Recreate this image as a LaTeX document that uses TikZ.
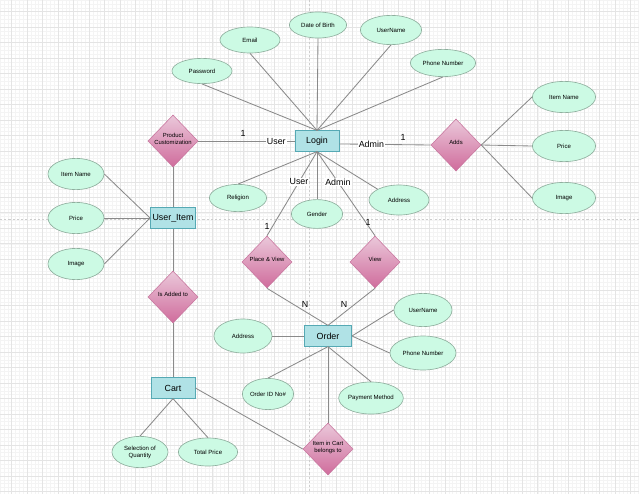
\documentclass[tikz,border=0pt]{standalone}
\usepackage{fontspec}
\setmainfont{Liberation Sans}
\usetikzlibrary{shapes.geometric}
\definecolor{AttrFill}{HTML}{CCFAE4}
\definecolor{AttrLine}{HTML}{8FAF9E}
\definecolor{EntFill}{HTML}{B0E2E6}
\definecolor{EntLine}{HTML}{56A9B4}
\definecolor{RelTop}{HTML}{EAC8DA}
\definecolor{RelBot}{HTML}{D06C9C}
\definecolor{RelLine}{HTML}{C8769E}
\definecolor{Wire}{HTML}{8A8A8A}
\definecolor{GridMaj}{HTML}{E4E4E4}
\definecolor{GridMin}{HTML}{F4F4F4}
\definecolor{Guide}{HTML}{CDCDCD}
\newcommand{\dtext}[1]{\smash{\makebox[0pt]{\begin{tabular}{@{}c@{}}#1\end{tabular}}}}

\begin{document}
\begin{tikzpicture}[x=0.025cm,y=-0.025cm,
  attr/.style 2 args={ellipse,draw=AttrLine,fill=AttrFill,line width=.45pt,inner sep=0pt,
    minimum width=#1,minimum height=#2,align=center,font=\fontsize{4.3}{5}\selectfont},
  ent/.style={rectangle,draw=EntLine,fill=EntFill,line width=.6pt,inner sep=0pt,
    minimum width=1.1cm,minimum height=.51cm,font=\fontsize{6.3}{7}\selectfont},
  rel/.style={diamond,draw=RelLine,top color=RelTop,bottom color=RelBot,line width=.4pt,
    inner sep=0pt,minimum width=1.25cm,minimum height=1.3cm,font=\fontsize{4.2}{5}\selectfont},
  wire/.style={draw=Wire,line width=.6pt},
  role/.style={fill=white,inner sep=.8pt,font=\fontsize{6.3}{7}\selectfont},
  card/.style={inner sep=0pt,font=\fontsize{6.3}{7}\selectfont}]
\useasboundingbox (0,0) rectangle (639,494);
\fill[white] (0,0) rectangle (639,494);
% grid paper
\foreach \k in {0,...,165} \draw[GridMin,line width=.3pt] ({11.6+3.86875*(\k-3)},0) -- ++(0,494);
\foreach \k in {0,...,127} \draw[GridMin,line width=.3pt] (0,{11.6+3.86875*(\k-3)}) -- ++(639,0);
\foreach \k in {0,...,40} \draw[GridMaj,line width=.4pt] ({11.6+15.475*\k},0) -- ++(0,494);
\foreach \k in {0,...,31} \draw[GridMaj,line width=.4pt] (0,{11.6+15.475*\k}) -- ++(639,0);
\draw[Guide,line width=.5pt,dash pattern=on 1.5pt off 1.5pt] (309,0) -- (309,494) (0,219) -- (639,219);

% entities
\node[ent] (login) at (317,141) {Login};
\node[ent,minimum width=1.125cm] (uitem) at (173,218) {User\_Item};
\node[ent] (cart) at (173,388) {Cart};
\node[ent,minimum width=1.175cm] (order) at (328,336) {Order};

% relationships
\node[rel] (pc) at (173,141) {\dtext{Product\\Customization}};
\node[rel] (adds) at (456,145) {\dtext{Adds}};
\node[rel] (added) at (173,297) {\dtext{Is Added to}};
\node[rel] (placev) at (267,262) {\dtext{Place \& View}};
\node[rel] (view) at (375,262) {\dtext{View}};
\node[rel] (incart) at (328,449) {\dtext{Item in Cart\\belongs to}};

% login attributes
\node[attr={1.5cm}{.63cm}] (pwd) at (202,71) {Password};
\node[attr={1.5cm}{.65cm}] (email) at (250,40) {Email};
\node[attr={1.43cm}{.65cm}] (dob) at (318,25) {Date of Birth};
\node[attr={1.53cm}{.73cm}] (uname) at (391,30) {UserName};
\node[attr={1.63cm}{.68cm}] (phone) at (443,63) {Phone Number};
\node[attr={1.43cm}{.68cm}] (religion) at (238,198) {Religion};
\node[attr={1.28cm}{.72cm}] (gender) at (317,214) {Gender};
\node[attr={1.5cm}{.75cm}] (addr) at (399,200) {Address};

% item attributes
\node[attr={1.58cm}{.78cm}] (iname) at (564,97) {Item Name};
\node[attr={1.58cm}{.78cm}] (iprice) at (564,146) {Price};
\node[attr={1.58cm}{.78cm}] (iimage) at (564,198) {Image};
\node[attr={1.4cm}{.78cm}] (lname) at (76,174) {Item Name};
\node[attr={1.4cm}{.78cm}] (lprice) at (76,218) {Price};
\node[attr={1.4cm}{.78cm}] (limage) at (76,264) {Image};

% cart and order attributes
\node[attr={1.4cm}{.78cm}] (sel) at (140,452) {Selection of\\Quantity};
\node[attr={1.48cm}{.7cm}] (total) at (208,452) {Total Price};
\node[attr={1.45cm}{.85cm}] (oaddr) at (243,336) {Address};
\node[attr={1.45cm}{.83cm}] (ouname) at (423,310) {UserName};
\node[attr={1.65cm}{.85cm}] (ophone) at (423,353) {Phone Number};
\node[attr={1.28cm}{.78cm}] (oid) at (268,394) {Order ID No\#};
\node[attr={1.55cm}{.8cm}] (opay) at (371,398) {Payment Method};

% connectors
\foreach \a in {pwd,email,dob,uname,phone} \draw[wire] (login.north) -- (\a.south);
\foreach \a in {religion,gender} \draw[wire] (login.south) -- (\a.north);
\draw[wire] (login.south) -- (addr.north west);
\foreach \a in {iname,iprice,iimage} \draw[wire] (adds.east) -- (\a.west);
\foreach \a in {lname,lprice,limage} \draw[wire] (\a.east) -- (uitem.west);
\draw[wire] (pc.south) -- (uitem.north);
\draw[wire] (uitem.south) -- (added.north);
\draw[wire] (added.south) -- (cart.north);
\foreach \a in {sel,total} \draw[wire] (cart.south) -- (\a.north);
\draw[wire] (cart.east) -- (incart.west);
\foreach \a in {oid,opay} \draw[wire] (order.south) -- (\a.north);
\draw[wire] (order.south) -- (incart.north);
\draw[wire] (oaddr.east) -- (order.west);
\foreach \a in {ouname,ophone} \draw[wire] (order.east) -- (\a.west);
\draw[wire] (placev.south) -- (order.north);
\draw[wire] (view.south) -- (order.north);
\draw[wire] (pc.east) -- node[role,pos=.81] (rUser) {User} (login.west);
\draw[wire] ([yshift=-2.1pt]login.east) -- node[role,pos=.35] (rAdmin) {Admin} (adds.west);
\draw[wire] (login.south) -- node[role,pos=.36] (rUser2) {User} (placev.north);
\draw[wire] (login.south) -- node[role,pos=.36] (rAdmin2) {Admin} (view.north);

% cardinalities
\node[card] (c1) at (243,133) {1};
\node[card] (c2) at (403,137) {1};
\node[card] (c3) at (267,226) {1};
\node[card] (c4) at (368,222) {1};
\node[card] (n1) at (305,304) {N};
\node[card] (n2) at (344,304) {N};
\end{tikzpicture}
\end{document}
